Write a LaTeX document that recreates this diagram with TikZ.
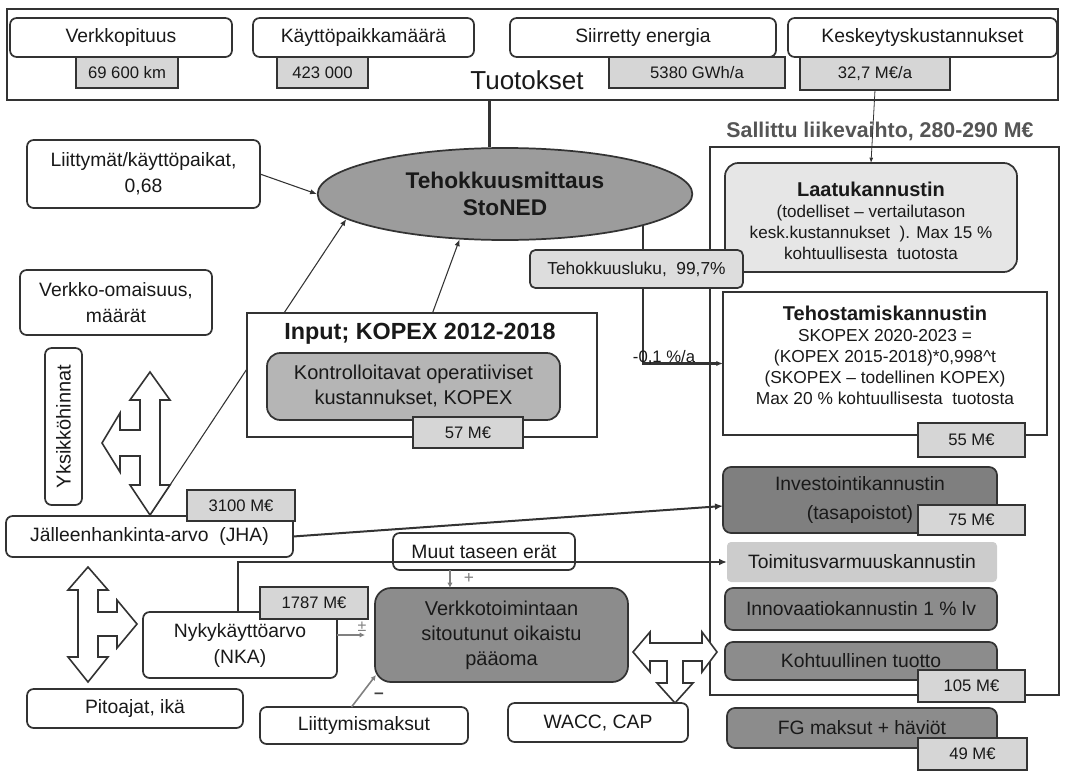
\documentclass[tikz,border=0pt]{standalone}
\usepackage{fontspec}
\setmainfont{Liberation Sans}
\usetikzlibrary{arrows.meta,shapes.geometric,calc}
\definecolor{ln}{HTML}{333333}
\definecolor{valg}{HTML}{D6D6D6}
\definecolor{darkg}{HTML}{8C8C8C}
\definecolor{invg}{HTML}{7F7F7F}
\definecolor{ellg}{HTML}{9C9C9C}
\definecolor{kopg}{HTML}{B5B5B5}
\definecolor{laag}{HTML}{E6E6E6}
\definecolor{toig}{HTML}{CCCCCC}
\definecolor{tkg}{HTML}{DDDDDD}
\definecolor{arrg}{HTML}{808080}
\definecolor{salc}{HTML}{555555}
\newcommand\myflab{\fontsize{14.5}{19.5}\selectfont}
\newcommand\myfval{\fontsize{12.5}{15}\selectfont}
\newcommand\myfbody{\fontsize{12.8}{15.6}\selectfont}
\newcommand\myftit{\bfseries\fontsize{15}{18}\selectfont}
\tikzset{
  span/.style n args={4}{at={({(#1+#3)/2},{(#2+#4)/2})}, anchor=center,
      minimum width={(#3-#1)*0.75pt}, minimum height={(#4-#2)*0.75pt}},
  base/.style={inner sep=0pt, outer sep=0pt, align=center, text=black!90},
  wbox/.style={base, draw=ln, line width=1.3pt, fill=white, rounded corners=5pt, font=\myflab},
  vbox/.style={base, draw=ln, line width=1.3pt, fill=valg, font=\myfval},
  dbox/.style={base, draw=ln, line width=1.3pt, fill=darkg, rounded corners=6pt, font=\myflab},
  conn/.style={draw=ln, line width=0.8pt, -{Latex[length=5pt,width=4pt]}},
  thk/.style={draw=ln, line width=2pt},
  garr/.style={draw=arrg, line width=1.2pt, -{Latex[length=4pt,width=4pt]}},
  bigarrow/.style={draw=ln, line width=1.2pt, fill=white, line join=miter}
}
\begin{document}
\begin{tikzpicture}[x=0.75pt,y=-0.75pt]
\useasboundingbox (0,0) rectangle (1065,771);

% ---------- top: Tuotokset ----------
\node[base, draw=ln, line width=1.3pt, span={7}{9}{1058}{100}] (tuo) {};
\node[font=\fontsize{19.5}{22}\selectfont, text=black!90] (tuot) at (527,80) {Tuotokset};
\node[wbox, span={10}{18}{232}{57}] (verk) {Verkkopituus};
\node[vbox, span={76}{57}{178}{88}] (verkv) {69 600 km};
\node[wbox, span={253}{18}{474}{57}] (kay) {Käyttöpaikkamäärä};
\node[vbox, span={277}{57}{368}{88}] (kayv) {423 000};
\node[wbox, span={510}{18}{776}{57}] (sii) {Siirretty energia};
\node[vbox, span={609}{57}{785}{88}] (siiv) {5380 GWh/a};
\node[wbox, span={788}{18}{1057}{57}] (kes) {Keskeytyskustannukset};
\node[vbox, span={800}{57}{950}{90}] (kesv) {32,7 M€/a};

% ---------- ellipse ----------
\node[ellipse, draw=ln, line width=1.3pt, fill=ellg, minimum width=281pt, minimum height=69pt,
      inner sep=0pt, align=center, font=\bfseries\fontsize{17}{20}\selectfont, text=black!90]
      (ell) at (505,194) {Tehokkuusmittaus\\StoNED};
\draw[draw=ln, line width=2.5pt] (ell.108 |- tuo.south) -- (ell.108);

% ---------- right: Sallittu liikevaihto ----------
\node[base, draw=ln, line width=1.3pt, span={710}{147}{1059}{695}] (sal) {};
\node[font=\bfseries\fontsize{16}{19}\selectfont, text=salc] (salt) at (880,131) {Sallittu liikevaihto, 280-290 M€};
\node[base, draw=ln, line width=1.3pt, fill=laag, rounded corners=10pt, span={725}{163}{1017}{272}] (laa) {};
\node[base, font=\myfbody] (laat) at (871,221)
  {{\myftit Laatukannustin}\\(todelliset – vertailutason\\kesk.kustannukset~~). Max 15 \%\\kohtuullisesta~~tuotosta};
\draw[draw=ln, line width=0.6pt, -{Latex[length=4pt,width=3pt]}] (kesv.south) -- (laa.north);

\node[base, draw=ln, line width=1.3pt, fill=white, span={723}{292}{1047}{435}] (teh) {};
\node[base, font=\fontsize{13}{15.8}\selectfont] (teht) at (885,355)
  {{\myftit Tehostamiskannustin}\\SKOPEX 2020-2023 =\\(KOPEX 2015-2018)*0,998\textasciicircum t\\(SKOPEX – todellinen KOPEX)\\Max 20 \% kohtuullisesta~~tuotosta};

\draw[thk, -{Latex[length=5pt,width=4pt]}] (ell.-13.9) |- (teh.west);
\node[base, font=\fontsize{12.5}{15}\selectfont, anchor=base] (pct) at (664,362) {-0,1 \%/a};
\node[base, draw=ln, line width=1.3pt, fill=tkg, rounded corners=4pt, font=\fontsize{13}{15}\selectfont,
      span={530}{250}{743}{288}] (tlk) {Tehokkuusluku,~~99,7\%};

\node[vbox, span={918}{423}{1025}{457}] (v55) {55 M€};
\node[dbox, fill=invg, font=\fontsize{14.5}{21.5}\selectfont, span={723}{467}{997}{533}] (inv) {Investointikannustin\\(tasapoistot)};
\node[vbox, span={918}{505}{1025}{535}] (v75) {75 M€};
\node[base, fill=toig, rounded corners=3pt, font=\myflab, span={727}{542}{997}{582}] (toi) {Toimitusvarmuuskannustin};
\node[dbox, span={725}{588}{997}{630}] (inn) {Innovaatiokannustin 1 \% lv};
\node[dbox, span={725}{642}{997}{680}] (koh) {Kohtuullinen tuotto};
\node[vbox, span={918}{670}{1025}{702}] (v105) {105 M€};
\node[dbox, span={727}{708}{997}{748}] (fg) {FG maksut + häviöt};
\node[vbox, span={918}{738}{1027}{770}] (v49) {49 M€};

% ---------- left ----------
\node[wbox, span={27}{140}{260}{208}] (liit) {Liittymät/käyttöpaikat,\\0,68};
\draw[conn] (liit.east) -- (ell.west);
\node[wbox, span={20}{270}{212}{335}] (vom) {Verkko-omaisuus,\\määrät};
\node[wbox, font=\fontsize{15}{18}\selectfont, span={45}{348}{82}{505}] (yks) {\rotatebox{90}{Yksikköhinnat}};

\node[wbox, span={6}{516}{293}{557}] (jha) {Jälleenhankinta-arvo~~(JHA)};
\node[vbox, span={187}{490}{295}{521}] (v3100) {3100 M€};
\draw[conn] (jha.north) -- (ell.189);

% upper cross arrow
\path[bigarrow] (150,372) -- (170,400) -- (160,400) -- (160,485) -- (170,485) -- (150,515) -- (130,485)
  -- (140,485) -- (140,456) -- (120,456) -- (120,472) -- (102,443) -- (120,413) -- (120,430)
  -- (140,430) -- (140,400) -- (130,400) -- cycle;

% ---------- input box ----------
\node[base, draw=ln, line width=1.3pt, fill=white, span={247}{313}{597}{437}] (inp) {};
\node[font=\bfseries\fontsize{17.5}{20}\selectfont, text=black!90] (inpt) at (420,334) {Input; KOPEX 2012-2018};
\node[base, draw=ln, line width=1.3pt, fill=kopg, rounded corners=10pt, font=\fontsize{15}{18.75}\selectfont,
      span={267}{353}{560}{420}] (kop) {Kontrolloitavat operatiiviset\\kustannukset, KOPEX};
\node[vbox, span={413}{417}{523}{448}] (v57) {57 M€};
\draw[conn] ($(inp.north west)!0.53!(inp.north east)$) -- (ell.225);

% ---------- bottom ----------
\node[wbox, span={143}{612}{337}{678}] (nka) {Nykykäyttöarvo\\(NKA)};
\node[vbox, span={260}{587}{368}{619}] (v1787) {1787 M€};
\node[wbox, span={27}{689}{243}{728}] (pit) {Pitoajat, ikä};
\node[wbox, span={260}{707}{468}{744}] (lma) {Liittymismaksut};
\node[wbox, span={508}{703}{688}{742}] (wacc) {WACC, CAP};
\node[dbox, rounded corners=12pt, font=\fontsize{15}{18.75}\selectfont, span={375}{588}{628}{682}] (vto)
  {Verkkotoimintaan\\sitoutunut oikaistu\\pääoma};
\node[wbox, span={393}{533}{575}{570}] (muut) {Muut taseen erät};

\draw[thk, -{Latex[length=6pt,width=5pt]}] ($(nka.north)+(-2,0)$) |- (toi.west);
\draw[draw=ln, line width=1.5pt, -{Latex[length=6pt,width=5pt]}] (jha.east) -- ($(inv.west)+(0,6)$);

\coordinate (mu1) at ($(muut.south west)!0.313!(muut.south east)$);
\draw[garr] (mu1) -- (mu1 |- vto.north);
\node[text=arrg, font=\fontsize{13}{15}\selectfont] (plus1) at (469,578) {+};
\draw[garr] (nka.east |- vto.west) -- ($(vto.west)+(-10,0)$);
\node[text=arrg, font=\fontsize{12}{14}\selectfont] (pm) at (362,627) {±};
\draw[garr] ($(lma.north west)!0.44!(lma.north east)$) -- ($(vto.south west)+(1,-7)$);
\node[text=black!75, font=\bfseries\fontsize{13}{15}\selectfont] (minus) at (379,696) {–};

% lower cross arrow
\path[bigarrow] (88,567) -- (108,590) -- (98,590) -- (98,612) -- (117,612) -- (117,600) -- (137,624)
  -- (117,648) -- (117,636) -- (98,636) -- (98,657) -- (108,657) -- (88,682) -- (68,657) -- (78,657)
  -- (78,590) -- (68,590) -- cycle;

% WACC cross arrow
\path[bigarrow] (633,652) -- (650,632) -- (650,643) -- (702,643) -- (702,632) -- (717,652) -- (702,672)
  -- (702,661) -- (683,661) -- (683,683) -- (693,683) -- (675,703) -- (657,683) -- (667,683)
  -- (667,661) -- (650,661) -- (650,672) -- cycle;
\end{tikzpicture}
\end{document}
